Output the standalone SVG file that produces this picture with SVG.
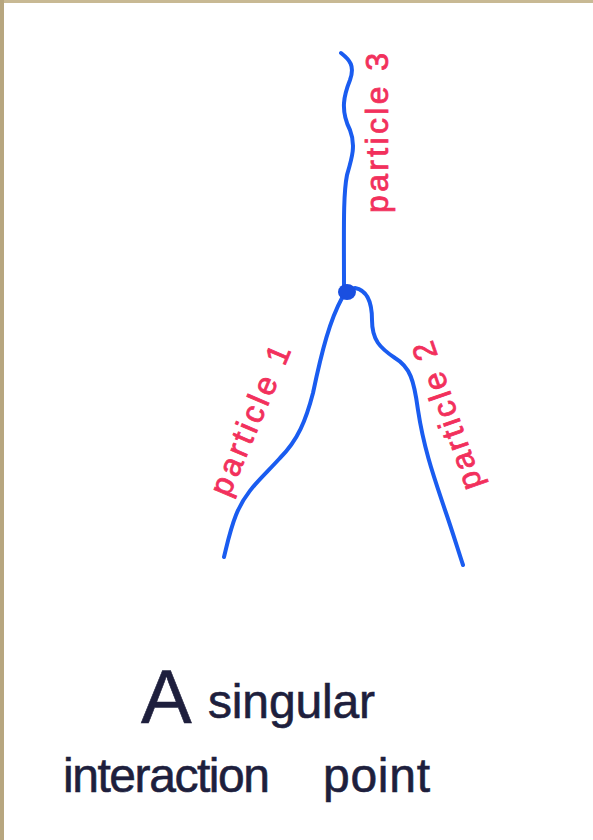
<svg xmlns="http://www.w3.org/2000/svg" width="593" height="840" viewBox="0 0 593 840">
<style>
.line{fill:none;stroke:#1a5cf0;stroke-width:4;stroke-linecap:round;stroke-linejoin:round}
.lbl{font-family:"Liberation Sans",Arial,sans-serif;font-size:32px;fill:#f2305c;stroke:#f2305c;stroke-width:0.8;text-anchor:middle;dominant-baseline:central}
.cap{font-family:"Liberation Sans",Arial,sans-serif;fill:#1e1f3d;stroke:#1e1f3d;stroke-width:0.6}
</style>
<rect width="593" height="840" fill="#ffffff"/>
<rect x="0" y="0" width="593" height="3" fill="#c8b994"/>
<rect x="0" y="0" width="4" height="840" fill="#b7a67f"/>
<g id="connectors">
<path id="particle3-line" class="line" d="M341,53 C350,60 355,66 350,80 C344,95 340,110 350,130 C356,145 352,158 347,175 C343,195 344,230 344,290"/>
<path id="particle1-line" class="line" d="M342,298 C330,320 322,350 313,393 C306,420 298,440 280,458 C262,478 246,490 236,515 C230,530 227,545 224,557"/>
<path id="particle2-line" class="line" d="M355,288 C366,290 372,300 372,320 C372,340 380,348 395,358 C410,367 414,380 418,410 C424,450 435,480 445,510 C452,530 458,550 463,565"/>
</g>
<g id="vertex"><ellipse cx="347" cy="292" rx="9" ry="8" fill="#1a4fe0"/></g>
<g id="label-particle3"><text class="lbl" transform="rotate(-90 377 133)" x="377" y="133" textLength="160" lengthAdjust="spacing">particle 3</text></g>
<g id="label-particle1"><text class="lbl" transform="rotate(-67 250 420)" x="250" y="420" textLength="160" lengthAdjust="spacing">particle 1</text></g>
<g id="label-particle2"><text class="lbl" transform="rotate(-109 447 416)" x="447" y="416" textLength="155" lengthAdjust="spacing">particle 2</text></g>
<g id="caption">
<text class="cap" x="141" y="723" font-size="76">A</text>
<text class="cap" x="208" y="718" font-size="48" textLength="167" lengthAdjust="spacing">singular</text>
<text class="cap" x="63" y="792" font-size="48" textLength="207" lengthAdjust="spacing">interaction</text>
<text class="cap" x="323" y="792" font-size="48" textLength="107" lengthAdjust="spacing">point</text>
</g>
</svg>
